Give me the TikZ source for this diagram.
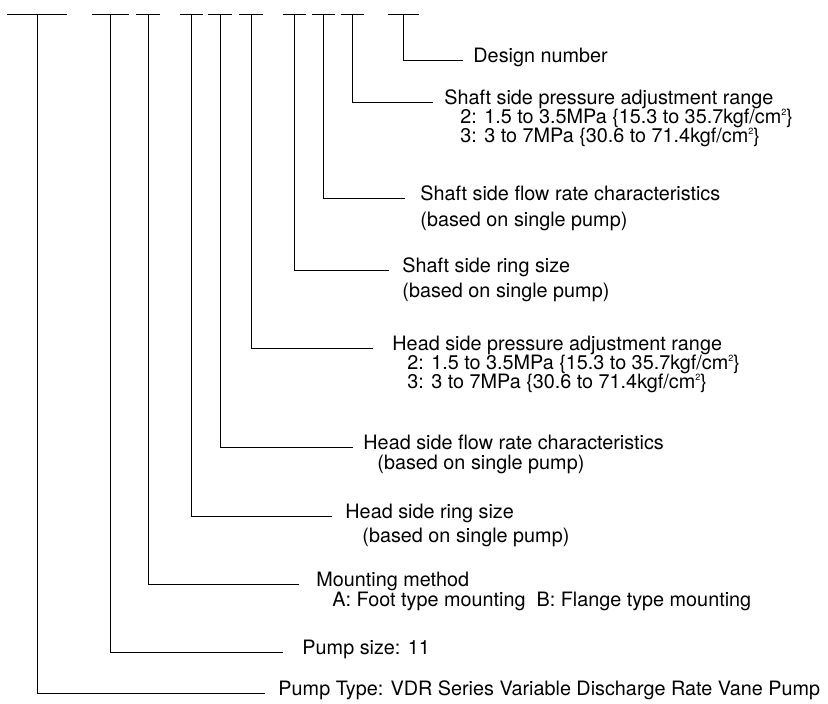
\documentclass[tikz,border=0pt]{standalone}
\usepackage{fontspec}
\setmainfont{TeX Gyre Heros}
\newcommand{\cmsq}{\raisebox{0.8ex}{\fontsize{9}{9}\selectfont 2}}
\begin{document}
\begin{tikzpicture}[x=1pt,y=-1pt,line width=0.9pt,
  every node/.style={font=\fontsize{19.8}{22}\selectfont,inner ysep=0pt,text height=0.72em,text depth=0.2em},
  lbl/.style={anchor=west,inner xsep=#1},
  sub/.style={anchor=west,inner xsep=0pt}]
  \useasboundingbox (0,0) rectangle (828,704);

  % Marks of the model code along the top
  \foreach \n/\x/\w in {1/37/30, 2/110/18.5, 3/148/12, 4/191/11.5, 5/220/12,
                        6/251/12, 7/294/11.5, 8/323/11.5, 9/352/11.5, 10/403/15.5}
  {
    \coordinate (d\n) at (\x,14);
    \draw ([xshift=-\w pt]d\n) -- ([xshift=\w pt]d\n);
  }

  % Shaft side
  \node[lbl=10pt] (dn) at (463,60) {Design number};
  \node[lbl=11pt] (ssp) at (433,102) {Shaft side pressure adjustment range};
  \node[sub] (ssp2) at (460,121) {2: 1.5 to 3.5MPa \{15.3 to 35.7kgf/cm\cmsq\}};
  \node[sub] (ssp3) at (460,140) {3: 3 to 7MPa \{30.6 to 71.4kgf/cm\cmsq\}};
  \node[lbl=15pt] (ssf) at (405,198) {Shaft side flow rate characteristics};
  \node[sub] (ssf2) at (420,224) {(based on single pump)};
  \node[lbl=13pt] (ssr) at (389,270) {Shaft side ring size};
  \node[sub] (ssr2) at (402,295) {(based on single pump)};

  % Head side
  \node[lbl=19pt] (hsp) at (373,348) {Head side pressure adjustment range};
  \node[sub] (hsp2) at (407,367) {2: 1.5 to 3.5MPa \{15.3 to 35.7kgf/cm\cmsq\}};
  \node[sub] (hsp3) at (407,386) {3: 3 to 7MPa \{30.6 to 71.4kgf/cm\cmsq\}};
  \node[lbl=10pt] (hsf) at (353,447) {Head side flow rate characteristics};
  \node[sub] (hsf2) at (377,467) {(based on single pump)};
  \node[lbl=13pt] (hsr) at (332,516) {Head side ring size};
  \node[sub] (hsr2) at (362,540) {(based on single pump)};

  % Pump body
  \node[lbl=17pt] (mm) at (299,584) {Mounting method};
  \node[sub] (mm2) at (332,604) {A: Foot type mounting\ \ B: Flange type mounting};
  \node[lbl=19pt] (ps) at (283,652) {Pump size: 11};
  \node[lbl=13pt] (pt) at (265,693) {Pump Type: VDR Series Variable Discharge Rate Vane Pump};

  % Leaders from the marks to the labels
  \foreach \from/\to in {d1/pt, d2/ps, d3/mm, d4/hsr, d5/hsf, d6/hsp,
                         d7/ssr, d8/ssf, d9/ssp, d10/dn}
    \draw (\from) |- (\to.west);
\end{tikzpicture}
\end{document}
